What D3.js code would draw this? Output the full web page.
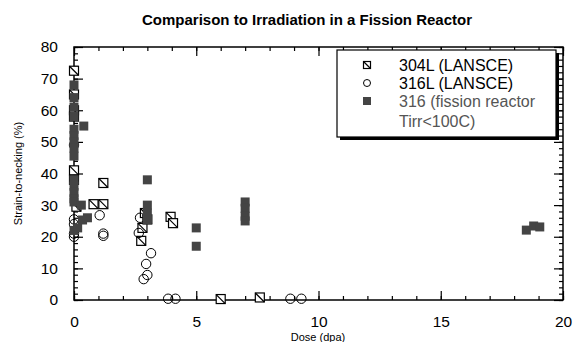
<!DOCTYPE html>
<html>
<head>
<meta charset="utf-8">
<script src="https://cdn.jsdelivr.net/npm/d3@7"></script>
<style>
  body { margin: 0; background: #fff; }
  text { font-family: "Liberation Sans", Arial, sans-serif; }
</style>
</head>
<body>
<div id="chart"></div>
<script>
// 304L (LANSCE) - hatched squares
let dose304 = [0, 0, 0, 0, 0, 0, 0.1, 0.8, 1.2, 1.2, 2.75, 2.8, 2.9, 3.0, 3.95, 4.05, 6.0, 7.6];
let strain304 = [72.5, 65, 60, 58, 41, 38, 29.5, 30.3, 30.3, 37, 18.7, 22.8, 27.5, 25.5, 26.3, 24.3, 0.3, 0.8];

// 316L (LANSCE) - open circles
let dose316L = [0, 0, 0, 0, 0, 1.05, 1.2, 1.2, 2.65, 2.7, 3.15, 2.95, 3.0, 2.85, 3.85, 4.15, 8.85, 9.3];
let strain316L = [49, 25.5, 24, 21, 20, 26.8, 21, 20.3, 21.2, 26, 14.8, 11.4, 7.9, 6.6, 0.4, 0.4, 0.4, 0.4];

// 316 (fission reactor, Tirr<100C) - filled squares
let doseFis = [0, 0, 0, 0, 0.4, 0, 0, 0, 0, 0, 0, 0, 0, 0, 0, 0.3, 0.55, 0.35, 0, 0.15,
  3.0, 3.0, 3.0, 3.0, 5.0, 5.0, 7.0, 7.0, 7.0, 7.0, 18.5, 18.8, 19.05];
let strainFis = [68, 64, 61, 58, 55, 54, 52, 50, 48, 45.5, 38, 36, 34, 32, 31, 30, 26, 25.3, 22, 22.8,
  38, 30, 27.5, 25.3, 22.8, 17, 31, 29, 26.5, 25, 22.1, 23.4, 23.1];

let xTicks = [0, 5, 10, 15, 20];
let yTicks = [0, 10, 20, 30, 40, 50, 60, 70, 80];

let legendLabels = [["304L (LANSCE)"], ["316L (LANSCE)"], ["316 (fission reactor", "Tirr<100C)"]];

let svgWidth = 573;
let svgHeight = 342;
let margin = { top: 47, right: 10, bottom: 42, left: 74 };
let width = svgWidth - margin.left - margin.right;
let height = svgHeight - margin.top - margin.bottom;

let svg = d3.select("#chart").append("svg")
  .attr("width", svgWidth)
  .attr("height", svgHeight);

svg.append("text")
  .attr("x", 307)
  .attr("y", 25)
  .attr("text-anchor", "middle")
  .attr("font-size", "15px")
  .attr("font-weight", "bold")
  .text("Comparison to Irradiation in a Fission Reactor");

let chartGroup = svg.append("g")
  .attr("transform", `translate(${margin.left}, ${margin.top})`);

let x = d3.scaleLinear().domain([0, 20]).range([0, width]);
let y = d3.scaleLinear().domain([0, 80]).range([height, 0]);

// frame
chartGroup.append("rect")
  .attr("width", width).attr("height", height)
  .attr("fill", "none").attr("stroke", "#000").attr("stroke-width", 1.5);

// ticks, all pointing inside
function axisStyle(g) {
  g.select(".domain").remove();
  g.selectAll("line").attr("stroke", "#000").attr("stroke-width", 1.2);
  g.selectAll("text").attr("font-size", "15.5px").attr("fill", "#000");
}

let xMinor = d3.range(0, 21, 1);
let yMinor = d3.range(0, 81, 2);

chartGroup.append("g").attr("transform", `translate(0, ${height})`)
  .call(d3.axisBottom(x).tickValues(xMinor).tickSize(-4).tickFormat(""))
  .call(axisStyle);
chartGroup.append("g").attr("transform", `translate(0, ${height})`)
  .call(d3.axisBottom(x).tickValues(xTicks).tickSize(-9).tickPadding(16).tickFormat(d3.format("d")))
  .call(axisStyle);
chartGroup.append("g")
  .call(d3.axisTop(x).tickValues(xMinor).tickSize(-4).tickFormat(""))
  .call(axisStyle);
chartGroup.append("g")
  .call(d3.axisTop(x).tickValues(xTicks).tickSize(-9).tickFormat(""))
  .call(axisStyle);

chartGroup.append("g")
  .call(d3.axisLeft(y).tickValues(yMinor).tickSize(-4).tickFormat(""))
  .call(axisStyle);
chartGroup.append("g")
  .call(d3.axisLeft(y).tickValues(yTicks).tickSize(-9).tickPadding(16).tickFormat(d3.format("d")))
  .call(axisStyle);
chartGroup.append("g").attr("transform", `translate(${width}, 0)`)
  .call(d3.axisRight(y).tickValues(yMinor).tickSize(-4).tickFormat(""))
  .call(axisStyle);
chartGroup.append("g").attr("transform", `translate(${width}, 0)`)
  .call(d3.axisRight(y).tickValues(yTicks).tickSize(-9).tickFormat(""))
  .call(axisStyle);

// axis titles
svg.append("text")
  .attr("transform", `translate(22, ${margin.top + height / 2}) rotate(-90)`)
  .attr("text-anchor", "middle")
  .attr("font-size", "11px")
  .text("Strain-to-necking (%)");

svg.append("text")
  .attr("x", 318)
  .attr("y", 341)
  .attr("text-anchor", "middle")
  .attr("font-size", "11px")
  .text("Dose (dpa)");

// markers
let s = 9;
function hatched(g, size) {
  g.append("rect")
    .attr("x", -size / 2).attr("y", -size / 2)
    .attr("width", size).attr("height", size)
    .attr("fill", "#fff").attr("stroke", "#000").attr("stroke-width", 1.2);
  g.append("line")
    .attr("x1", -size / 2).attr("y1", -size / 2)
    .attr("x2", size / 2).attr("y2", size / 2)
    .attr("stroke", "#000").attr("stroke-width", 1.2);
}

let data304 = dose304.map((d, i) => ({ dose: d, strain: strain304[i] }));
let data316L = dose316L.map((d, i) => ({ dose: d, strain: strain316L[i] }));
let dataFis = doseFis.map((d, i) => ({ dose: d, strain: strainFis[i] }));

chartGroup.selectAll(".p304")
  .data(data304)
  .enter()
  .append("g")
  .attr("class", "p304")
  .attr("transform", d => `translate(${x(d.dose)}, ${y(d.strain)})`)
  .each(function() { hatched(d3.select(this), s); });

chartGroup.selectAll(".p316L")
  .data(data316L)
  .enter()
  .append("circle")
  .attr("class", "p316L")
  .attr("cx", d => x(d.dose))
  .attr("cy", d => y(d.strain))
  .attr("r", 4.7)
  .attr("fill", "none")
  .attr("stroke", "#000")
  .attr("stroke-width", 1);

chartGroup.selectAll(".pFis")
  .data(dataFis)
  .enter()
  .append("rect")
  .attr("class", "pFis")
  .attr("x", d => x(d.dose) - s / 2)
  .attr("y", d => y(d.strain) - s / 2)
  .attr("width", s)
  .attr("height", s)
  .attr("fill", "#444");

// legend with drop shadow
let legend = svg.append("g").attr("transform", "translate(337, 50)");
legend.append("rect")
  .attr("x", 3).attr("y", 3).attr("width", 219).attr("height", 87)
  .attr("fill", "#000");
legend.append("rect")
  .attr("x", 0).attr("y", 0).attr("width", 219).attr("height", 87)
  .attr("fill", "#fff").attr("stroke", "#000").attr("stroke-width", 1.2);

let rowY = [15, 33, 51];
hatched(legend.append("g").attr("transform", `translate(30, ${rowY[0]})`), 7);
legend.append("circle").attr("cx", 30).attr("cy", rowY[1]).attr("r", 3.5)
  .attr("fill", "none").attr("stroke", "#000").attr("stroke-width", 1);
legend.append("rect").attr("x", 26).attr("y", rowY[2] - 4).attr("width", 8).attr("height", 8)
  .attr("fill", "#444");

legendLabels.forEach(function(lines, i) {
  lines.forEach(function(t, j) {
    legend.append("text")
      .attr("x", 62)
      .attr("y", rowY[i] + 6 + j * 20)
      .attr("font-size", "16px")
      .attr("fill", i === 2 ? "#555" : "#000")
      .text(t);
  });
});
</script>
</body>
</html>
